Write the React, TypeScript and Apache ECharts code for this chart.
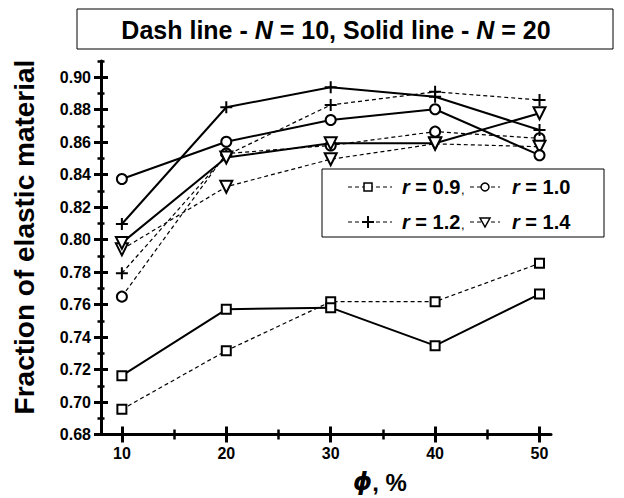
import React, { useEffect, useRef } from 'react';
import * as echarts from 'echarts';

// phi, %
const phi = [10, 20, 30, 40, 50];

// Dashed lines: N = 10
const r09N10 = [0.6955, 0.7316, 0.7618, 0.7618, 0.7854];
const r10N10 = [0.7649, 0.853, 0.858, 0.8665, 0.8624];
const r12N10 = [0.7793, 0.852, 0.8829, 0.891, 0.886];
const r14N10 = [0.794, 0.8326, 0.8495, 0.859, 0.8572];

// Solid lines: N = 20
const r09N20 = [0.7162, 0.7571, 0.7581, 0.7347, 0.7665];
const r10N20 = [0.8373, 0.8603, 0.8737, 0.8803, 0.852];
const r12N20 = [0.8096, 0.8815, 0.8938, 0.888, 0.8675];
const r14N20 = [0.798, 0.8506, 0.8593, 0.8593, 0.8778];

// Ticks
const xMajorTicks = [10, 20, 30, 40, 50];
const xMinorTicks = [15, 25, 35, 45];
const yMajorTicks = [0.68, 0.7, 0.72, 0.74, 0.76, 0.78, 0.8, 0.82, 0.84, 0.86, 0.88, 0.9];
const yMinorTicks = [0.69, 0.71, 0.73, 0.75, 0.77, 0.79, 0.81, 0.83, 0.85, 0.87, 0.89, 0.91];

const FONT = "'Liberation Sans', Arial, Helvetica, sans-serif";
const CROSS = 'path://M0,5L10,5M5,0L5,10';

function mk(name: string, values: number[], dashed: boolean, symbol: string, size: number, rotate = 0) {
  return {
    type: 'line',
    name,
    data: phi.map((x, i) => [x, values[i]]),
    xAxisIndex: 0,
    yAxisIndex: 0,
    symbol,
    symbolSize: size,
    symbolRotate: rotate,
    showSymbol: true,
    silent: true,
    lineStyle: { color: '#000', width: dashed ? 1.2 : 2, type: dashed ? [4, 3] : 'solid' },
    itemStyle: { color: '#fff', borderColor: '#000', borderWidth: 2 },
    emphasis: { disabled: true },
    z: dashed ? 2 : 3,
  };
}

export default function App() {
  const ref = useRef<HTMLDivElement>(null);
  useEffect(() => {
    const chart = echarts.init(ref.current!, null, { renderer: 'svg' });
    const baseX = { type: 'value', min: 8, max: 51.1, position: 'bottom', splitLine: { show: false } };
    const baseY = { type: 'value', min: 0.68, max: 0.91, position: 'left', splitLine: { show: false } };
    const richI = { fontStyle: 'italic', fontWeight: 'bold', fontFamily: FONT };
    const legendRowY = [187, 222];
    const dash = (x1: number, x2: number, y: number) => ({
      type: 'line', z: 10, shape: { x1, y1: y, x2, y2: y }, style: { stroke: '#000', lineWidth: 1, lineDash: [4, 3] },
    });
    const legendText = (x: number, y: number, t: string) => ({
      type: 'text', x, y, z: 12,
      style: {
        text: '{i|r} = ' + t, fontSize: 20, fontWeight: 'bold', fontFamily: FONT, fill: '#000',
        align: 'left', verticalAlign: 'middle', rich: { i: { ...richI, fontSize: 20 } },
      },
    });
    const comma = (x: number, y: number) => ({
      type: 'text', x, y: y + 2, z: 12,
      style: { text: ',', fontSize: 13, fontFamily: FONT, fill: '#000', align: 'left', verticalAlign: 'middle' },
    });
    chart.setOption({
      animation: false,
      backgroundColor: '#fff',
      grid: { left: 101, right: 73, top: 61, bottom: 63.5, containLabel: false, outerBoundsMode: 'none' },
      xAxis: [
        {
          ...baseX,
          axisLine: { show: true, onZero: false, lineStyle: { color: '#000', width: 3 } },
          axisTick: { show: false },
          axisLabel: { customValues: xMajorTicks, color: '#000', fontSize: 16, fontWeight: 'bold', fontFamily: FONT, margin: 11 },
        },
        {
          ...baseX, offset: -8,
          axisLine: { show: false, onZero: false },
          axisTick: { show: true, customValues: xMajorTicks, length: 16, lineStyle: { color: '#000', width: 3 } },
          axisLabel: { show: false },
        },
        {
          ...baseX, offset: -5,
          axisLine: { show: false, onZero: false },
          axisTick: { show: true, customValues: xMinorTicks, length: 10, lineStyle: { color: '#000', width: 2.5 } },
          axisLabel: { show: false },
        },
      ],
      yAxis: [
        {
          ...baseY,
          axisLine: { show: true, onZero: false, lineStyle: { color: '#000', width: 3 } },
          axisTick: { show: false },
          axisLabel: {
            customValues: yMajorTicks, color: '#000', fontSize: 16, fontWeight: 'bold', fontFamily: FONT, margin: 10,
            formatter: (v: number) => v.toFixed(2),
          },
        },
        {
          ...baseY, offset: -7,
          axisLine: { show: false, onZero: false },
          axisTick: { show: true, customValues: yMajorTicks, length: 14, lineStyle: { color: '#000', width: 3 } },
          axisLabel: { show: false },
        },
        {
          ...baseY, offset: -3.5,
          axisLine: { show: false, onZero: false },
          axisTick: { show: true, customValues: yMinorTicks, length: 7, lineStyle: { color: '#000', width: 2.5 } },
          axisLabel: { show: false },
        },
      ],
      series: [
        mk('r=0.9 N=10', r09N10, true, 'rect', 9),
        mk('r=1.0 N=10', r10N10, true, 'circle', 10),
        mk('r=1.2 N=10', r12N10, true, CROSS, 12),
        mk('r=1.4 N=10', r14N10, true, 'triangle', 12, 180),
        mk('r=0.9 N=20', r09N20, false, 'rect', 9),
        mk('r=1.0 N=20', r10N20, false, 'circle', 10),
        mk('r=1.2 N=20', r12N20, false, CROSS, 12),
        mk('r=1.4 N=20', r14N20, false, 'triangle', 12, 180),
      ],
      graphic: [
        // title box
        { type: 'rect', z: 5, shape: { x: 77, y: 9, width: 536, height: 40 }, style: { fill: '#fff', stroke: '#000', lineWidth: 1 } },
        {
          type: 'text', x: 336, y: 30, z: 6,
          style: {
            text: 'Dash line - {i|N} = 10, Solid line - {i|N} = 20', fontSize: 25, fontWeight: 'bold', fontFamily: FONT,
            fill: '#000', align: 'center', verticalAlign: 'middle', rich: { i: { ...richI, fontSize: 25 } },
          },
        },
        // axis titles
        {
          type: 'text', x: 24, y: 237, rotation: Math.PI / 2, z: 6,
          style: { text: 'Fraction of elastic material', fontSize: 28, fontWeight: 'bold', fontFamily: FONT, fill: '#000', align: 'center', verticalAlign: 'middle' },
        },
        {
          type: 'text', x: 380, y: 482, z: 6,
          style: {
            text: '{i|ϕ}, %', fontSize: 24, fontWeight: 'bold', fontFamily: FONT, fill: '#000', align: 'center', verticalAlign: 'middle',
            rich: { i: { ...richI, fontFamily: "'DejaVu Sans', 'Liberation Sans', sans-serif", fontSize: 24 } },
          },
        },
        // legend box
        { type: 'rect', z: 9, shape: { x: 322, y: 169, width: 282, height: 68 }, style: { fill: '#fff', stroke: '#000', lineWidth: 1 } },
        dash(348, 392, legendRowY[0]),
        dash(470, 500, legendRowY[0]),
        dash(348, 392, legendRowY[1]),
        dash(470, 500, legendRowY[1]),
        { type: 'rect', z: 11, shape: { x: 364, y: legendRowY[0] - 4, width: 8, height: 8 }, style: { fill: '#fff', stroke: '#000', lineWidth: 1.5 } },
        { type: 'circle', z: 11, shape: { cx: 485, cy: legendRowY[0], r: 4 }, style: { fill: '#fff', stroke: '#000', lineWidth: 1.5 } },
        { type: 'rect', z: 11, shape: { x: 363, y: legendRowY[1] - 5, width: 10, height: 10 }, style: { fill: '#fff', stroke: null } },
        { type: 'line', z: 12, shape: { x1: 362, y1: legendRowY[1], x2: 374, y2: legendRowY[1] }, style: { stroke: '#000', lineWidth: 2 } },
        { type: 'line', z: 12, shape: { x1: 368, y1: legendRowY[1] - 6, x2: 368, y2: legendRowY[1] + 6 }, style: { stroke: '#000', lineWidth: 2 } },
        {
          type: 'polygon', z: 11,
          shape: { points: [[480, legendRowY[1] - 4], [490, legendRowY[1] - 4], [485, legendRowY[1] + 5]] },
          style: { fill: '#fff', stroke: '#000', lineWidth: 1.5 },
        },
        legendText(402, legendRowY[0], '0.9'),
        comma(461, legendRowY[0]),
        legendText(512, legendRowY[0], '1.0'),
        legendText(402, legendRowY[1], '1.2'),
        comma(461, legendRowY[1]),
        legendText(512, legendRowY[1], '1.4'),
      ],
    });
    return () => chart.dispose();
  }, []);
  return <div ref={ref} style={{ position: 'absolute', left: 0, top: 0, width: 624, height: 498 }} />;
}
